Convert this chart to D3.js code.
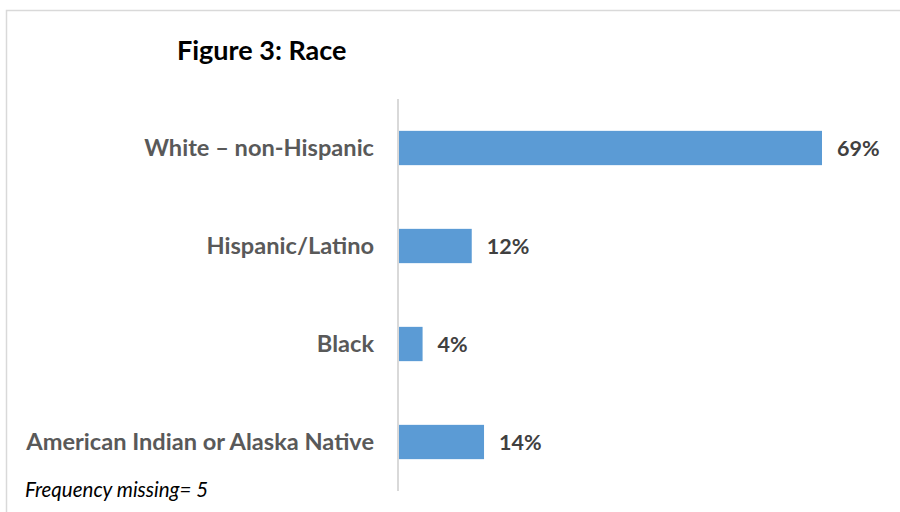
<!DOCTYPE html>
<html>
<head>
<meta charset="utf-8">
<script src="https://cdn.jsdelivr.net/npm/d3@7"></script>
<style>
  html, body { margin: 0; padding: 0; background: #fff; }
  svg { display: block; }
</style>
</head>
<body>
<div id="chart"></div>
<script>
// Race breakdown, percent of respondents
const categories = ["White – non-Hispanic", "Hispanic/Latino", "Black", "American Indian or Alaska Native"];
const values = [69, 12, 4, 14];
const valueLabels = ["69%", "12%", "4%", "14%"];
const titleText = "Figure 3: Race";
const noteText = "Frequency missing= 5";

const W = 900, H = 512;
const svg = d3.select("#chart").append("svg")
  .attr("width", W).attr("height", H);

// outer frame
svg.append("rect")
  .attr("x", 6.5).attr("y", 10.5)
  .attr("width", W).attr("height", H)
  .attr("fill", "#fff")
  .attr("stroke", "#d9d9d9").attr("stroke-width", 1.5);

const x = d3.scaleLinear().domain([0, 69]).range([398, 822]);
const y = d3.scaleBand().domain(categories).range([99, 491])
  .paddingInner(0.65).paddingOuter(0.325);

const font = "Lato, 'Open Sans', sans-serif";

svg.append("text")
  .attr("x", 177).attr("y", 60)
  .attr("font-family", font).attr("font-weight", 700)
  .attr("font-size", 27).attr("fill", "#000")
  .text(titleText);

svg.append("g").selectAll("rect")
  .data(categories)
  .join("rect")
  .attr("x", x(0))
  .attr("y", d => y(d))
  .attr("width", (d, i) => x(values[i]) - x(0))
  .attr("height", y.bandwidth())
  .attr("fill", "#5b9bd5");

// vertical category axis
const axis = svg.append("g")
  .attr("transform", `translate(${x(0)},0)`)
  .call(d3.axisLeft(y).tickSize(0).tickPadding(24));
axis.select(".domain")
  .attr("d", `M0,99V491`)
  .attr("stroke", "#d9d9d9").attr("stroke-width", 2);
axis.selectAll(".tick text")
  .attr("font-family", font).attr("font-weight", 700)
  .attr("font-size", 23.6).attr("fill", "#595959");

svg.append("g").selectAll("text")
  .data(categories)
  .join("text")
  .attr("x", (d, i) => x(values[i]) + 15)
  .attr("y", d => y(d) + y.bandwidth() / 2)
  .attr("dy", "0.36em")
  .attr("font-family", font).attr("font-weight", 700)
  .attr("font-size", 21.5).attr("fill", "#404040")
  .text((d, i) => valueLabels[i]);

svg.append("text")
  .attr("x", 25).attr("y", 497)
  .attr("font-family", font).attr("font-style", "italic")
  .attr("font-size", 20.5).attr("fill", "#000")
  .text(noteText);
</script>
</body>
</html>
